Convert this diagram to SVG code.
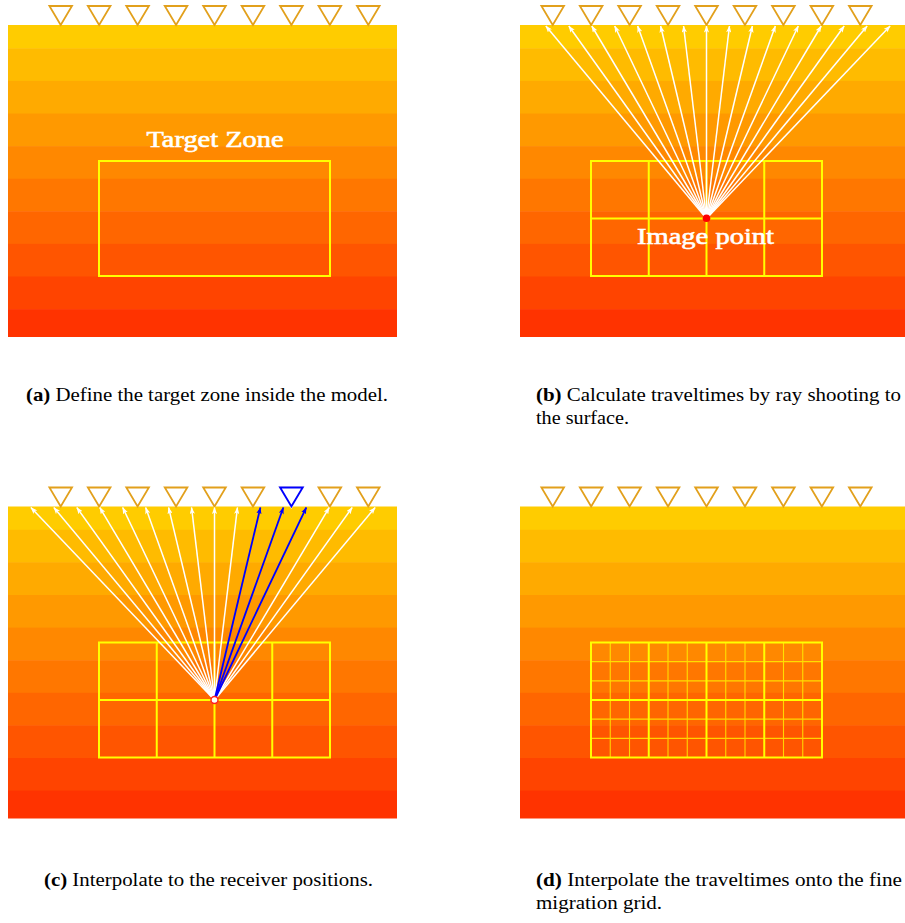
<svg xmlns="http://www.w3.org/2000/svg" xmlns:xlink="http://www.w3.org/1999/xlink" width="905" height="923" viewBox="0 0 905 923">
<style>
.cap{font-family:"Liberation Serif","Times New Roman",serif;font-size:19px;fill:#000}
.lbl{font-family:"Liberation Serif","Times New Roman",serif;font-size:23px;fill:#fff;stroke:#fff;stroke-width:0.6}
.rcv{fill:none;stroke:#E2A01C;stroke-width:1.8;stroke-linejoin:miter}
.rcvb{fill:none;stroke:#0000FF;stroke-width:1.9}
.grid{fill:none;stroke:#FFFF00;stroke-width:2}
.fine{fill:none;stroke:#FFFF00;stroke-width:1.1;stroke-opacity:0.75}
.ray{stroke:#fff;stroke-width:1.5;fill:none;marker-end:url(#aw)}
.rayb{stroke:#0000FF;stroke-width:1.8;fill:none;marker-end:url(#ab)}
</style>
<defs>
<marker id="aw" viewBox="0 0 8 6" refX="7.5" refY="3" markerWidth="7" markerHeight="5.25" orient="auto" markerUnits="userSpaceOnUse"><path d="M0,0 L8,3 L0,6 L2,3 Z" fill="#fff"/></marker>
<marker id="ab" viewBox="0 0 8 6" refX="7.5" refY="3" markerWidth="7" markerHeight="5.25" orient="auto" markerUnits="userSpaceOnUse"><path d="M0,0 L8,3 L0,6 L2,3 Z" fill="#0000FF"/></marker>
<g id="model">
<rect x="0" y="0" width="389" height="23.8" fill="#FFCC00"/>
<rect x="0" y="23.3" width="389" height="33.1" fill="#FFBB00"/>
<rect x="0" y="55.9" width="389" height="33.1" fill="#FFAA00"/>
<rect x="0" y="88.5" width="389" height="33.1" fill="#FF9900"/>
<rect x="0" y="121.1" width="389" height="33.1" fill="#FF8800"/>
<rect x="0" y="153.7" width="389" height="33.1" fill="#FF7700"/>
<rect x="0" y="186.3" width="389" height="33.1" fill="#FF6600"/>
<rect x="0" y="218.9" width="389" height="33.1" fill="#FF5500"/>
<rect x="0" y="251.5" width="389" height="33.1" fill="#FF4400"/>
<rect x="0" y="284.1" width="389" height="27.9" fill="#FF3300"/>
</g>
<path id="tri" d="M-11.3,-19 L11.3,-19 L0,0 Z"/>
<g id="recvs">
<use xlink:href="#tri" x="0" class="rcv"/>
<use xlink:href="#tri" x="38.45" class="rcv"/>
<use xlink:href="#tri" x="76.9" class="rcv"/>
<use xlink:href="#tri" x="115.35" class="rcv"/>
<use xlink:href="#tri" x="153.8" class="rcv"/>
<use xlink:href="#tri" x="192.25" class="rcv"/>
<use xlink:href="#tri" x="230.7" class="rcv"/>
<use xlink:href="#tri" x="269.15" class="rcv"/>
<use xlink:href="#tri" x="307.6" class="rcv"/>
</g>
</defs>

<g id="panel-a">
<use xlink:href="#model" x="8" y="25"/>
<use xlink:href="#recvs" x="60.7" y="25"/>
<g id="target-zone">
<rect class="grid" x="99" y="161" width="231" height="115"/>
<text class="lbl" x="215" y="146.5" text-anchor="middle" textLength="137" lengthAdjust="spacingAndGlyphs">Target Zone</text>
</g>
<text class="cap" x="26" y="401" textLength="362" lengthAdjust="spacingAndGlyphs"><tspan font-weight="bold">(a)</tspan> Define the target zone inside the model.</text>
</g>

<g id="panel-b">
<use xlink:href="#model" x="520" y="25"/>
<use xlink:href="#recvs" x="552.7" y="25"/>
<g id="grid-b" class="grid">
<rect x="591" y="161" width="231" height="115"/>
<path d="M648.75,161V276M706.5,161V276M764.25,161V276M591,218.5H822"/>
</g>
<g id="rays-b">
<path class="ray" d="M706.5,218.5L545.85,26"/>
<path class="ray" d="M706.5,218.5L568.8,26"/>
<path class="ray" d="M706.5,218.5L591.75,26"/>
<path class="ray" d="M706.5,218.5L614.7,26"/>
<path class="ray" d="M706.5,218.5L637.65,26"/>
<path class="ray" d="M706.5,218.5L660.6,26"/>
<path class="ray" d="M706.5,218.5L683.55,26"/>
<path class="ray" d="M706.5,218.5L706.5,26"/>
<path class="ray" d="M706.5,218.5L729.45,26"/>
<path class="ray" d="M706.5,218.5L752.4,26"/>
<path class="ray" d="M706.5,218.5L775.35,26"/>
<path class="ray" d="M706.5,218.5L798.3,26"/>
<path class="ray" d="M706.5,218.5L821.25,26"/>
<path class="ray" d="M706.5,218.5L844.2,26"/>
<path class="ray" d="M706.5,218.5L867.15,26"/>
<path class="ray" d="M706.5,218.5L890.1,26"/>
</g>
<g id="image-point">
<circle cx="706.5" cy="218.3" r="3.8" fill="#FF0000"/>
<text class="lbl" x="705.5" y="243.5" text-anchor="middle" textLength="137" lengthAdjust="spacingAndGlyphs">Image point</text>
</g>
<text class="cap" x="536" y="401" textLength="365" lengthAdjust="spacingAndGlyphs"><tspan font-weight="bold">(b)</tspan> Calculate traveltimes by ray shooting to</text>
<text class="cap" x="536" y="424" textLength="93" lengthAdjust="spacingAndGlyphs">the surface.</text>
</g>

<g id="panel-c">
<use xlink:href="#model" x="8" y="506.5"/>
<use xlink:href="#recvs" x="60.7" y="506.5"/>
<g id="grid-c" class="grid">
<rect x="99" y="642.5" width="231" height="115"/>
<path d="M156.75,642.5V757.5M214.5,642.5V757.5M272.25,642.5V757.5M99,700H330"/>
</g>
<g id="rays-c">
<path class="ray" d="M214.5,700L30.9,507.5"/>
<path class="ray" d="M214.5,700L53.85,507.5"/>
<path class="ray" d="M214.5,700L76.8,507.5"/>
<path class="ray" d="M214.5,700L99.75,507.5"/>
<path class="ray" d="M214.5,700L122.7,507.5"/>
<path class="ray" d="M214.5,700L145.65,507.5"/>
<path class="ray" d="M214.5,700L168.6,507.5"/>
<path class="ray" d="M214.5,700L191.55,507.5"/>
<path class="ray" d="M214.5,700L214.5,507.5"/>
<path class="ray" d="M214.5,700L237.45,507.5"/>
<path class="ray" d="M214.5,700L329.25,507.5"/>
<path class="ray" d="M214.5,700L352.2,507.5"/>
<path class="ray" d="M214.5,700L375.15,507.5"/>
<path class="rayb" d="M214.5,700L260.4,507.5"/>
<path class="rayb" d="M214.5,700L283.35,507.5"/>
<path class="rayb" d="M214.5,700L306.3,507.5"/>
</g>
<g id="receiver-blue">
<use xlink:href="#tri" x="291.4" y="506.5" fill="#fff" stroke="#fff" stroke-width="2.6"/>
<use xlink:href="#tri" x="291.4" y="506.5" class="rcvb"/>
</g>
<circle id="image-point-c" cx="214.5" cy="700" r="3.5" fill="#fff" stroke="#FF2020" stroke-width="1.4"/>
<text class="cap" x="44" y="886" textLength="329" lengthAdjust="spacingAndGlyphs"><tspan font-weight="bold">(c)</tspan> Interpolate to the receiver positions.</text>
</g>

<g id="panel-d">
<use xlink:href="#model" x="520" y="506.5"/>
<use xlink:href="#recvs" x="552.7" y="506.5"/>
<g id="grid-d">
<path class="fine" d="M610.25,642.5V757.5M629.5,642.5V757.5M668,642.5V757.5M687.25,642.5V757.5M725.75,642.5V757.5M745,642.5V757.5M783.5,642.5V757.5M802.75,642.5V757.5M591,661.67H822M591,680.83H822M591,719.17H822M591,738.33H822"/>
<rect class="grid" x="591" y="642.5" width="231" height="115"/>
<path class="grid" d="M648.75,642.5V757.5M706.5,642.5V757.5M764.25,642.5V757.5M591,700H822"/>
</g>
<text class="cap" x="536" y="886" textLength="366" lengthAdjust="spacingAndGlyphs"><tspan font-weight="bold">(d)</tspan> Interpolate the traveltimes onto the fine</text>
<text class="cap" x="536" y="909" textLength="126" lengthAdjust="spacingAndGlyphs">migration grid.</text>
</g>
</svg>
